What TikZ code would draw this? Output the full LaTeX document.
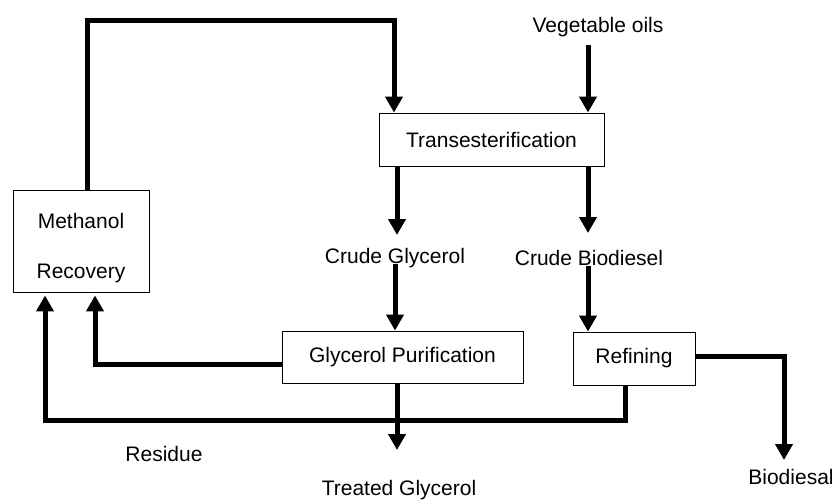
\documentclass[tikz,border=0pt]{standalone}
\usepackage{fontspec}
\setmainfont{Liberation Sans}
\usetikzlibrary{arrows.meta}
\newcommand{\lowertxt}[1]{\raisebox{-7pt}[\height][\depth]{#1}}
\begin{document}
\begin{tikzpicture}[x=1pt,y=-1pt,
  box/.style={draw,line width=0.9pt,inner sep=0pt,align=center,font=\fontsize{21}{50}\selectfont},
  lbl/.style={inner sep=0pt,font=\fontsize{21}{24}\selectfont},
  flow/.style={line width=5pt,-{Triangle[width=17pt,length=16pt]}},
  pipe/.style={line width=5pt}]
\useasboundingbox (0,0) rectangle (833,500);
% boxes
\node[box,minimum width=136pt,minimum height=102pt] (mr) at (81,241) {\lowertxt{Methanol}\\\lowertxt{Recovery}};
\node[box,minimum width=225pt,minimum height=53pt] (tr) at (491.5,139.5) {Transesterification};
\node[box,minimum width=241pt,minimum height=52pt] (gp) at (402.5,357) {Glycerol Purification};
\node[box,minimum width=122pt,minimum height=53pt] (rf) at (634,358.5) {Refining};
% labels
\node[lbl] (veg) at (598,27) {Vegetable oils};
\node[lbl] (cg) at (395,258) {Crude Glycerol};
\node[lbl] (cb) at (589,258) {Crude Biodiesel};
\node[lbl] (res) at (164,454) {Residue};
\node[lbl] (tg) at (399,490) {Treated Glycerol};
\node[lbl] (bd) at (791,477) {Biodiesal};
% coordinates
\coordinate (top) at (87,21);
\coordinate (topr) at (394,21);
\coordinate (cgend) at (397,235);
\coordinate (cbend) at (588,233);
\coordinate (gpl) at (95,364);
\coordinate (resb) at (625,420);
\coordinate (resl) at (45,420);
\coordinate (tgend) at (397,450);
\coordinate (bdr) at (784,356);
\coordinate (bdend) at (784,460);
% connectors
\draw[flow,line join=miter] (mr.north -| top) -- (top) -- (topr) -- (tr.north -| topr);
\draw[flow] (veg.south -| cbend) ++(0,8) -- (tr.north -| cbend);
\draw[flow] (tr.south -| cgend) -- (cgend);
\draw[flow] (tr.south -| cbend) -- (cbend);
\draw[flow] (cg.south -| 395,0) ++(0,-4) -- (gp.north -| 395,0);
\draw[flow] (cb.south -| 588,0) -- (rf.north -| 588,0);
\draw[flow,line join=miter,shorten >=3pt] (gp.west |- gpl) -- (gpl) -- (mr.south -| gpl);
\draw[flow,line join=miter,shorten >=3pt] (rf.south -| resb) -- (resb) -- (resl) -- (mr.south -| resl);
\draw[flow] (gp.south -| tgend) -- (tgend);
\draw[flow,line join=miter] (rf.east |- bdr) -- (bdr) -- (bdend);
\end{tikzpicture}
\end{document}
